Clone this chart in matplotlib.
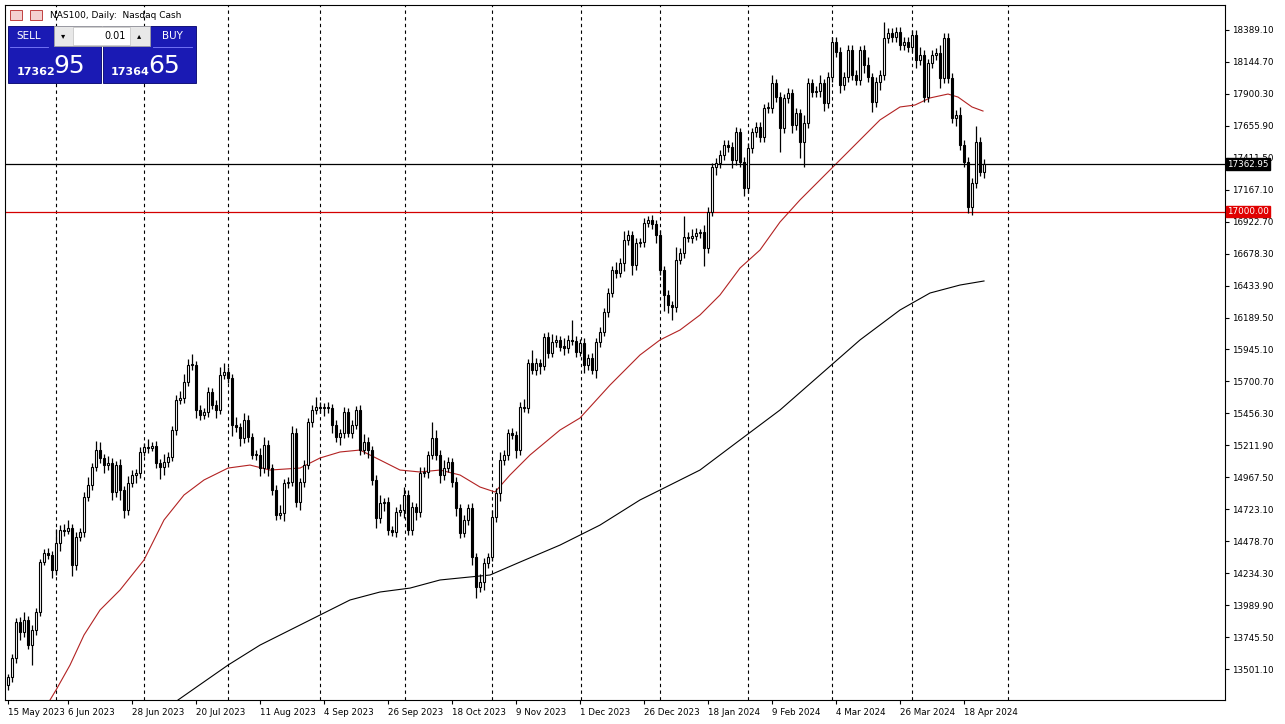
import matplotlib.pyplot as plt
from matplotlib.patches import Rectangle

# daily closes, NAS100 cash, 15 May 2023 .. 24 Apr 2024 (one value per bar)
first_open = 13378
closes = [
    13440, 13585, 13860, 13784, 13876, 13684, 13799, 13937, 14319, 14388,
    14373, 14258, 14465, 14564, 14560, 14579, 14296, 14511, 14549, 14817,
    14908, 15046, 15176, 15115, 15061, 15077, 14855, 15065, 14870, 14717,
    14924, 14985, 15000, 15161, 15199, 15195, 15205, 15077, 15046, 15084,
    15123, 15329, 15559, 15574, 15696, 15826, 15830, 15482, 15444, 15467,
    15620, 15520, 15482, 15750, 15773, 15727, 15367, 15352, 15268, 15406,
    15276, 15138, 15140, 15038, 15214, 15038, 14870, 14679, 14694, 14924,
    14930, 15306, 14778, 14931, 15061, 15390, 15482, 15505, 15497, 15505,
    15497, 15367, 15276, 15306, 15467, 15306, 15367, 15482, 15176, 15237,
    15176, 14947, 14656, 14771, 14778, 14564, 14549, 14702, 14717, 14832,
    14564, 14740, 14702, 15000, 15005, 15138, 15268, 15138, 14985, 15038,
    15084, 14931, 14732, 14541, 14641, 14732, 14358, 14128, 14166, 14312,
    14358, 14664, 14847, 15100, 15138, 15306, 15291, 15176, 15505, 15497,
    15842, 15788, 15842, 15819, 16041, 15918, 16002, 16018, 15964, 15960,
    16018, 16010, 15926, 15995, 15826, 15880, 15788, 16002, 16079, 16232,
    16377, 16553, 16530, 16607, 16783, 16821, 16591, 16760, 16767, 16913,
    16936, 16905, 16821, 16553, 16362, 16285, 16270, 16630, 16683, 16806,
    16800, 16810, 16836, 16840, 16721, 16997, 17341, 17372, 17433, 17509,
    17494, 17395, 17609, 17379, 17180, 17486, 17609, 17647, 17571, 17792,
    17795, 17984, 17877, 17639, 17869, 17907, 17662, 17754, 17532, 17678,
    17984, 17915, 17920, 17984, 17831, 18030, 18297, 18221, 17968, 18030,
    18236, 18045, 18007, 18236, 18121, 18030, 17838, 17991, 18045, 18328,
    18366, 18336, 18374, 18274, 18297, 18259, 18351, 18160, 18198, 17877,
    18137, 18198, 18213, 18022, 18328, 18022, 17716, 17739, 17509, 17379,
    17035, 17219, 17532, 17303, 17363,
]
# wick lengths above / below the body, in points
upper_wick = [
    20, 30, 30, 40, 60, 30, 40, 30, 20, 30,
    40, 30, 110, 40, 50, 60, 30, 40, 30, 40,
    60, 30, 70, 60, 30, 50, 40, 30, 40, 30,
    50, 40, 30, 40, 30, 60, 30, 40, 30, 60,
    40, 30, 40, 50, 60, 50, 80, 30, 40, 30,
    40, 30, 40, 60, 70, 40, 30, 60, 30, 50,
    40, 30, 40, 50, 60, 40, 30, 40, 60, 30,
    40, 50, 40, 30, 40, 30, 40, 80, 40, 30,
    40, 30, 40, 30, 40, 30, 40, 30, 40, 60,
    40, 30, 40, 60, 30, 40, 30, 40, 50, 60,
    40, 40, 30, 50, 40, 30, 120, 60, 40, 60,
    40, 30, 40, 30, 40, 30, 40, 30, 60, 40,
    30, 50, 40, 60, 40, 30, 40, 30, 40, 60,
    30, 100, 40, 30, 30, 40, 60, 40, 30, 70,
    40, 150, 40, 30, 40, 30, 40, 30, 40, 30,
    40, 30, 60, 40, 70, 40, 30, 40, 30, 40,
    30, 40, 30, 40, 30, 40, 30, 100, 40, 160,
    40, 60, 40, 30, 60, 40, 30, 40, 40, 40,
    40, 40, 40, 30, 40, 40, 30, 40, 40, 30,
    40, 60, 30, 40, 30, 40, 30, 40, 30, 60,
    40, 30, 40, 60, 30, 40, 40, 40, 40, 40,
    40, 40, 40, 30, 40, 60, 30, 40, 40, 120,
    40, 40, 40, 40, 40, 40, 40, 40, 60, 40,
    30, 40, 40, 60, 40, 40, 40, 40, 60, 40,
    40, 40, 120, 40, 40,
]
lower_wick = [
    40, 40, 40, 60, 40, 30, 150, 40, 30, 20,
    30, 60, 40, 60, 40, 30, 80, 40, 30, 40,
    30, 40, 30, 40, 60, 40, 60, 40, 80, 60,
    40, 30, 60, 40, 30, 40, 30, 40, 90, 60,
    40, 30, 40, 30, 40, 30, 40, 60, 40, 30,
    40, 30, 60, 30, 30, 40, 80, 40, 60, 40,
    40, 30, 40, 60, 40, 60, 40, 40, 30, 60,
    40, 30, 40, 60, 40, 30, 40, 30, 40, 60,
    40, 60, 40, 60, 40, 30, 40, 30, 40, 30,
    60, 40, 80, 40, 60, 40, 30, 40, 30, 60,
    40, 40, 60, 40, 30, 40, 30, 40, 60, 40,
    30, 40, 60, 40, 30, 40, 60, 80, 40, 60,
    40, 30, 40, 60, 40, 40, 30, 60, 40, 30,
    40, 30, 40, 60, 30, 40, 30, 40, 30, 60,
    40, 30, 40, 30, 60, 40, 30, 60, 40, 30,
    40, 30, 40, 30, 60, 40, 80, 40, 30, 40,
    30, 40, 60, 40, 120, 60, 100, 40, 30, 40,
    30, 40, 30, 40, 140, 40, 30, 60, 40, 40,
    40, 60, 40, 40, 60, 40, 40, 40, 40, 40,
    40, 40, 40, 180, 40, 40, 60, 40, 120, 190,
    40, 40, 40, 40, 60, 40, 40, 40, 60, 40,
    40, 40, 40, 40, 60, 40, 80, 40, 60, 40,
    40, 40, 40, 40, 40, 40, 40, 60, 40, 40,
    40, 40, 40, 80, 40, 40, 40, 60, 40, 40,
    45, 60, 40, 30, 50,
]

# 50 and 200 day moving averages, read at points along the lines
ma50_bars = [10.5, 12, 15.5, 19, 23, 28, 34, 39, 44, 49, 55, 60.5, 65.5, 73, 78, 83,
             88, 93, 98, 103, 108, 113, 118, 121.75, 125.5, 130.5, 138, 143, 150.5,
             158, 163, 168, 173, 178, 183, 188, 193, 198, 203, 208, 213, 218, 223,
             226.75, 230.5, 235, 237.5, 241, 243.75]
ma50_vals = [13264, 13340, 13531, 13761, 13952, 14105, 14335, 14641, 14832, 14947,
             15038, 15061, 15023, 15038, 15115, 15161, 15176, 15100, 15023, 15008,
             15023, 14985, 14893, 14855, 14985, 15138, 15329, 15421, 15673, 15903,
             16018, 16094, 16209, 16362, 16568, 16706, 16920, 17089, 17242, 17395,
             17548, 17701, 17800, 17815, 17869, 17899, 17876, 17800, 17769]
ma200_bars = [42.5, 55, 63, 70.5, 78, 85.5, 93, 100.5, 108, 115.5, 120.5, 128, 138,
              148, 158, 163, 173, 183, 193, 203, 213, 223, 230.5, 238, 244]
ma200_vals = [13264, 13531, 13684, 13799, 13914, 14029, 14090, 14120, 14182, 14205,
              14220, 14319, 14449, 14602, 14794, 14870, 15023, 15253, 15482, 15750,
              16018, 16247, 16377, 16438, 16469]

label_bars = [0, 15, 31, 47, 63, 79, 95, 111, 127, 143, 159, 175, 191, 207, 223, 239]
date_labels = ["15 May 2023", "6 Jun 2023", "28 Jun 2023", "20 Jul 2023", "11 Aug 2023",
               "4 Sep 2023", "26 Sep 2023", "18 Oct 2023", "9 Nov 2023", "1 Dec 2023",
               "26 Dec 2023", "18 Jan 2024", "9 Feb 2024", "4 Mar 2024", "26 Mar 2024",
               "18 Apr 2024"]
month_start_bars = [12, 34.1, 55.1, 78, 99.25, 121.1, 143.2, 163.1, 185.1, 206, 226.1, 250]
price_ticks = [13501.10, 13745.50, 13989.90, 14234.30, 14478.70, 14723.10, 14967.50,
               15211.90, 15456.30, 15700.70, 15945.10, 16189.50, 16433.90, 16678.30,
               16922.70, 17167.10, 17411.50, 17655.90, 17900.30, 18144.70, 18389.10]
bid = 17362.95
level = 17000.00

W, H = 1285, 724
fig = plt.figure(figsize=(W / 100, H / 100), dpi=100)
fig.patch.set_facecolor("white")
ax = fig.add_axes([5 / W, 24 / H, 1220 / W, 695 / H])
ax.set_xlim(-0.75, 304.25)
ax.set_ylim(13264, 18580)

# month separators
for b in month_start_bars:
    ax.axvline(b, color="black", lw=0.8, ls=(0, (3, 3)), zorder=1)

# candles
opens = [first_open] + closes[:-1]
for i, (o, c) in enumerate(zip(opens, closes)):
    hi = max(o, c) + upper_wick[i]
    lo = min(o, c) - lower_wick[i]
    ax.vlines(i, lo, hi, color="black", lw=0.9, zorder=3)
    h = max(abs(c - o), 8)
    ax.add_patch(Rectangle((i - 0.36, min(o, c)), 0.72, h,
                           facecolor="white" if c >= o else "black",
                           edgecolor="black", lw=0.8, zorder=4))

ax.plot(ma50_bars, ma50_vals, color="#b22222", lw=0.8, zorder=2)
ax.plot(ma200_bars, ma200_vals, color="black", lw=0.8, zorder=2)

ax.axhline(bid, color="black", lw=0.9, zorder=2)
ax.axhline(level, color="#d40000", lw=0.9, zorder=2)

ax.yaxis.tick_right()
ax.set_yticks(price_ticks)
ax.set_yticklabels([f"{p:.2f}" for p in price_ticks])
ax.set_xticks(label_bars)
ax.set_xticklabels(date_labels, ha="left")
ax.tick_params(axis="both", labelsize=6.3, length=3, width=0.8, pad=2, colors="black")
ax.tick_params(axis="x", pad=3)
for lbl in ax.get_xticklabels()[1:]:
    lbl.set_x(lbl.get_position()[0])
for s in ax.spines.values():
    s.set_linewidth(0.8)

tr = ax.get_yaxis_transform()
ax.text(1.0015, bid, f"{bid:.2f}", transform=tr, fontsize=6.3, color="white", va="center",
        ha="left", bbox=dict(boxstyle="square,pad=0.15", fc="black", ec="black"), zorder=6)
ax.text(1.0015, level, f"{level:.2f}", transform=tr, fontsize=6.3, color="white", va="center",
        ha="left", bbox=dict(boxstyle="square,pad=0.15", fc="#e00000", ec="#e00000"), zorder=6)

# trade panel overlay (pixel coordinates)
ov = fig.add_axes([0, 0, 1, 1])
ov.set_xlim(0, W)
ov.set_ylim(H, 0)
ov.axis("off")
ov.patch.set_alpha(0)
ov.add_patch(Rectangle((10, 10), 12, 10, fc="#f3d0d0", ec="#c04040", lw=0.7))
ov.add_patch(Rectangle((30, 10), 12, 10, fc="#f3d0d0", ec="#c04040", lw=0.7))
ov.text(50, 15, "NAS100, Daily:  Nasdaq Cash", fontsize=6.5, va="center")
blue = "#1a1ab4"
ov.add_patch(Rectangle((8, 26), 93, 57, fc=blue, ec="#00006a", lw=0.6))
ov.add_patch(Rectangle((103, 26), 93, 57, fc=blue, ec="#00006a", lw=0.6))
ov.plot([10, 48], [47, 47], color="#8080ff", lw=0.6)
ov.plot([153, 192], [47, 47], color="#8080ff", lw=0.6)
ov.add_patch(Rectangle((54, 26), 96, 20, fc="#e8e8e8", ec="#a0a0a0", lw=0.6))
ov.add_patch(Rectangle((73, 27), 57, 18, fc="white", ec="#c0c0c0", lw=0.5))
ov.text(63, 36, "▾", fontsize=6, ha="center", va="center")
ov.text(139, 36, "▴", fontsize=6, ha="center", va="center")
ov.text(126, 36, "0.01", fontsize=7, ha="right", va="center")
ov.text(29, 36, "SELL", fontsize=7.5, color="white", ha="center", va="center")
ov.text(172, 36, "BUY", fontsize=7.5, color="white", ha="center", va="center")
ov.text(17, 72, "17362", fontsize=8, color="white", ha="left", va="center", weight="bold")
ov.text(53, 66, "95", fontsize=18, color="white", ha="left", va="center")
ov.text(111, 72, "17364", fontsize=8, color="white", ha="left", va="center", weight="bold")
ov.text(148, 66, "65", fontsize=18, color="white", ha="left", va="center")

fig.savefig("out.png", dpi=100)
